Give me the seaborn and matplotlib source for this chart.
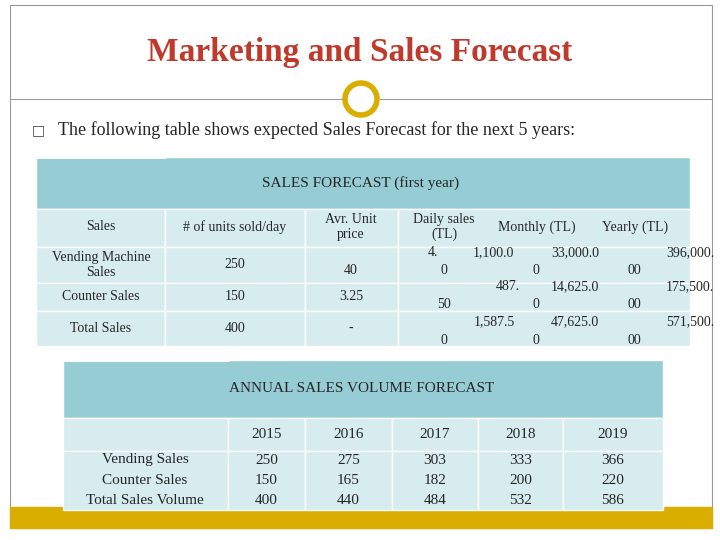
import matplotlib
matplotlib.use("Agg")
import matplotlib.pyplot as plt
import seaborn as sns
from matplotlib.patches import Rectangle, Circle

sns.set_style("white")

title = "Marketing and Sales Forecast"
bullet_text = "The following table shows expected Sales Forecast for the next 5 years:"
t1_title = "SALES FORECAST (first year)"
t1_headers = ["Sales", "# of units sold/day", "Avr. Unit\nprice", "Daily sales\n(TL)", "Monthly (TL)", "Yearly (TL)"]
t1_rows = ["Vending Machine\nSales", "Counter Sales", "Total Sales"]
t1_units = ["250", "150", "400"]
t1_price = ["40", "3.25", "-"]
t2_title = "ANNUAL SALES VOLUME FORECAST"
years = ["2015", "2016", "2017", "2018", "2019"]
t2_rows = ["Vending Sales", "Counter Sales", "Total Sales Volume"]
vending = [250, 275, 303, 333, 366]
counter = [150, 165, 182, 200, 220]
total = [400, 440, 484, 532, 586]

SERIF = "Liberation Serif"
fig = plt.figure(figsize=(7.2, 5.4), dpi=100)
ax = fig.add_axes([0, 0, 1, 1])
ax.set_xlim(0, 720); ax.set_ylim(540, 0); ax.axis("off")
GOLD = "#D9AE00"; HEAD = "#96CDD4"; CELL = "#D7ECEF"
ax.add_patch(Rectangle((10, 5), 702, 523, fill=False, ec="#999999", lw=0.8))
ax.add_patch(Rectangle((10, 507), 702, 21, color=GOLD))
ax.text(360, 52, title, color="#C0392B", fontsize=24, fontweight="bold", family=SERIF, ha="center", va="center")
ax.plot([10, 342], [99, 99], color="#999999", lw=0.8)
ax.plot([380, 712], [99, 99], color="#999999", lw=0.8)
ax.add_patch(Circle((361, 99), 16, fill=False, ec=GOLD, lw=4))
ax.text(32, 130, "\u25A1", fontsize=10, va="center", color="#444444")
ax.text(58, 130, bullet_text, fontsize=13, family=SERIF, va="center")

def cell(x0, y0, x1, y1, c):
    ax.add_patch(Rectangle((x0, y0), x1 - x0, y1 - y0, fc=c, ec="white", lw=1))

# Table 1
cell(36, 157, 690, 209, HEAD)
ax.plot([36, 165], [157, 157], color="white", lw=2)
ax.text(361, 183, t1_title, fontsize=11, family=SERIF, ha="center", va="center")
cols = [36, 165, 305, 398, 690]
rowsy = [209, 247, 283, 311, 346]
for i in range(4):
    for j in range(4):
        cell(cols[j], rowsy[i], cols[j + 1], rowsy[i + 1], CELL)
hx = [101, 235, 351, 444, 537, 635]
for x, h in zip(hx, t1_headers):
    ax.text(x, 227, h, fontsize=10, family=SERIF, ha="center", va="center")
for i, (r, u, p) in enumerate(zip(t1_rows, t1_units, t1_price)):
    yc = (rowsy[i + 1] + rowsy[i + 2]) / 2
    ax.text(101, yc, r, fontsize=10, family=SERIF, ha="center", va="center")
    ax.text(235, yc, u, fontsize=10, family=SERIF, ha="center", va="center")
    ax.text(351, yc + (6 if i == 0 else 0), p, fontsize=10, family=SERIF, ha="center", va="center")
frag = [(433, 253, "4."), (493, 253, "1,100.0"), (575, 253, "33,000.0"), (690, 253, "396,000."),
        (444, 271, "0"), (536, 271, "0"), (634, 271, "00"),
        (508, 287, "487."), (575, 287, "14,625.0"), (690, 287, "175,500."),
        (444, 305, "50"), (536, 305, "0"), (634, 305, "00"),
        (494, 322, "1,587.5"), (575, 322, "47,625.0"), (690, 322, "571,500."),
        (444, 340, "0"), (536, 340, "0"), (634, 340, "00")]
for x, y, s in frag:
    ax.text(x, y, s, fontsize=10, family=SERIF, ha="center", va="center")

# Table 2
cell(63, 360, 663, 418, HEAD)
ax.plot([63, 228], [360, 360], color="white", lw=2)
ax.text(362, 389, t2_title, fontsize=11, family=SERIF, ha="center", va="center")
c2 = [63, 228, 305, 392, 478, 563, 663]
for j in range(6):
    cell(c2[j], 418, c2[j + 1], 451, CELL)
    cell(c2[j], 451, c2[j + 1], 510, CELL)
for j, yv in enumerate(years):
    ax.text((c2[j + 1] + c2[j + 2]) / 2, 434, yv, fontsize=11, family=SERIF, ha="center", va="center")
ly = [460, 480, 500]
for k, r in enumerate(t2_rows):
    ax.text(145, ly[k], r, fontsize=11, family=SERIF, ha="center", va="center")
for j in range(5):
    xc = (c2[j + 1] + c2[j + 2]) / 2
    for k, arr in enumerate([vending, counter, total]):
        ax.text(xc, ly[k], str(arr[j]), fontsize=11, family=SERIF, ha="center", va="center")

fig.savefig("out.png", dpi=100)
